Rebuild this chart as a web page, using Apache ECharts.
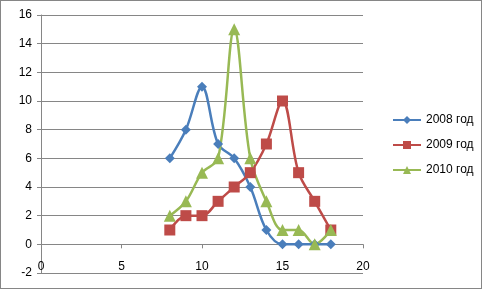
<!DOCTYPE html>
<html>
<head>
<meta charset="utf-8">
<script src="https://cdn.jsdelivr.net/npm/echarts@6/dist/echarts.min.js"></script>
<style>
html,body{margin:0;padding:0;background:#fff;}
#chart{width:480px;height:287px;border:1px solid #868686;}
</style>
</head>
<body>
<div id="chart"></div>
<script>
// годы и значения
var xValues = [8, 9, 10, 11, 12, 13, 14, 15, 16, 17, 18];
var y2008 = [6, 8, 11, 7, 6, 4, 1, 0, 0, 0, 0];
var y2009 = [1, 2, 2, 3, 4, 5, 7, 10, 5, 3, 1];
var y2010 = [2, 3, 5, 6, 15, 6, 3, 1, 1, 0, 1];
var seriesNames = ['2008 год', '2009 год', '2010 год'];

function pairs(ys){
	var out = [];
	for(var i=0;i<xValues.length;i++){
		out.push([xValues[i], ys[i]]);
	}
	return out;
}

var myChart = echarts.init(document.getElementById('chart'));

var lbl = {color:'#000', fontFamily:'Liberation Sans', fontSize:12};

option = {
	animation:false,
	grid:{left:40, right:118, top:14, bottom:15, outerBoundsMode:'none', containLabel:false},
	legend:{
		orient:'vertical',
		left:386,
		top:108,
		itemGap:13,
		itemWidth:28,
		itemHeight:10,
		textStyle:{color:'#000', fontFamily:'Liberation Sans', fontSize:12},
		data:seriesNames
	},
	xAxis:[
		{
			// ось на нуле: линия и засечки
			type:'value',
			min:0, max:20, interval:5,
			axisLine:{onZero:true, lineStyle:{color:'#868686', width:1}},
			axisTick:{show:true, length:4, lineStyle:{color:'#868686'}},
			axisLabel:{show:false},
			splitLine:{show:false}
		},
		{
			// подписи внизу
			type:'value',
			position:'bottom',
			min:0, max:20, interval:5,
			axisLine:{show:false, onZero:false},
			axisTick:{show:false},
			axisLabel:Object.assign({margin:-12}, lbl),
			splitLine:{show:false}
		}
	],
	yAxis:{
		type:'value',
		min:-2, max:16, interval:2,
		axisLine:{show:true, lineStyle:{color:'#868686', width:1}},
		axisTick:{show:true, length:4, lineStyle:{color:'#868686'}},
		axisLabel:Object.assign({margin:9}, lbl),
		splitLine:{show:true, lineStyle:{color:'#868686', width:1}}
	},
	series:[
		{
			name:seriesNames[0], type:'line', smooth:0.35,
			data:pairs(y2008),
			symbol:'diamond', symbolSize:10,
			lineStyle:{color:'#4A7EBB', width:2.5},
			itemStyle:{color:'#4A7EBB'}
		},
		{
			name:seriesNames[1], type:'line', smooth:0.35,
			data:pairs(y2009),
			symbol:'rect', symbolSize:11,
			lineStyle:{color:'#BE4B48', width:2.5},
			itemStyle:{color:'#BE4B48'}
		},
		{
			name:seriesNames[2], type:'line', smooth:0.35,
			data:pairs(y2010),
			symbol:'triangle', symbolSize:12,
			lineStyle:{color:'#98B954', width:2.5},
			itemStyle:{color:'#98B954'}
		}
	]
};

myChart.setOption(option);
</script>
</body>
</html>
